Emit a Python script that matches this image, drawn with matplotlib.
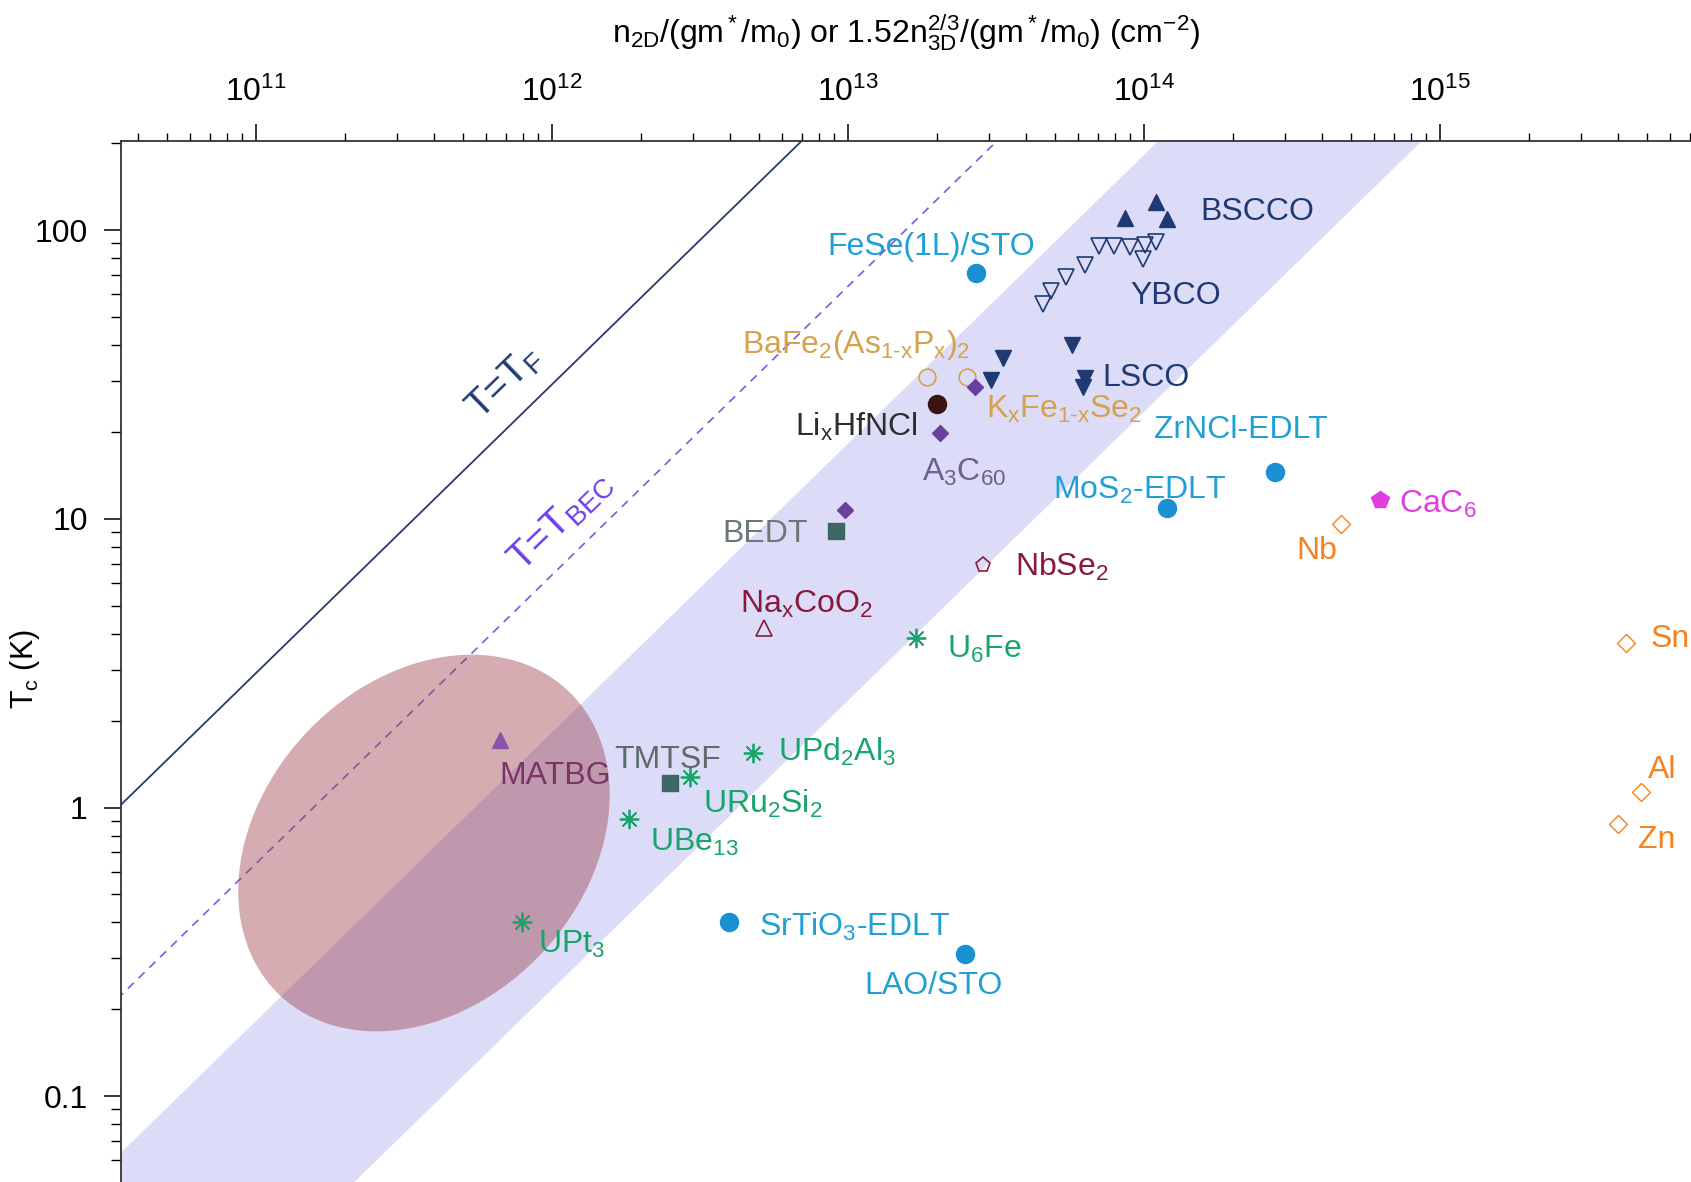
# Tc vs effective 2D carrier density (Uemura-type plot)
import numpy as np
import matplotlib.pyplot as plt

plt.rcParams['font.family'] = ['Liberation Sans', 'DejaVu Sans']
plt.rcParams['mathtext.fontset'] = 'custom'
plt.rcParams['mathtext.rm'] = 'Liberation Sans'
plt.rcParams['mathtext.it'] = 'Liberation Sans'
plt.rcParams['mathtext.default'] = 'regular'

# ---- data: n/(g m*/m0) in cm^-2, Tc in K ----
bscco_n = [8.6e13, 1.10e14, 1.20e14]
bscco_tc = [110, 125, 109]
ybco_n = [4.56e13, 4.84e13, 5.45e13, 6.33e13, 7.06e13, 7.94e13, 9.0e13, 9.95e13, 1.01e14, 1.10e14]
ybco_tc = [55.5, 61.5, 68.9, 75.7, 88.4, 88.4, 87.6, 79.6, 89.1, 90.6]
lsco_n = [3.35e13, 3.05e13, 5.73e13, 6.33e13, 6.22e13]
lsco_tc = [36.1, 30.2, 40.1, 30.7, 28.6]
bafe_n = [1.85e13, 2.52e13]
bafe_tc = [31, 31]
a3c60_n = [2.68e13, 2.04e13, 9.75e12]
a3c60_tc = [28.6, 19.8, 10.7]
lihfncl_n = [2.0e13]
lihfncl_tc = [25.0]
organic_n = [9.1e12, 2.5e12]          # BEDT, TMTSF
organic_tc = [9.1, 1.22]
ufermion_n = [1.70e13, 4.78e12, 2.94e12, 1.82e12, 7.9e11]   # U6Fe, UPd2Al3, URu2Si2, UBe13, UPt3
ufermion_tc = [3.85, 1.55, 1.28, 0.91, 0.40]
edlt_n = [2.7e13, 2.77e14, 1.2e14, 3.97e12, 2.49e13]     # FeSe/STO, ZrNCl, MoS2, SrTiO3, LAO/STO
edlt_tc = [71, 14.5, 10.9, 0.40, 0.31]
nbse2_n, nbse2_tc = [2.85e13], [6.9]
naxcoo2_n, naxcoo2_tc = [5.2e12], [4.2]
matbg_n, matbg_tc = [6.7e11], [1.72]
cac6_n, cac6_tc = [6.25e14], [11.6]
metal_n = [4.62e14, 4.24e15, 4.77e15, 3.99e15]   # Nb, Sn, Al, Zn
metal_tc = [9.6, 3.7, 1.13, 0.88]

# reference lines T = c * n  (log10 c)
tf_coef = -10.535
tbec_coef = -11.195
band_hi = -11.74
band_lo = -12.63
# MATBG ellipse in log10 space: centre, semi-axes (decades), angle
ell_c = (11.568, -0.123)
ell_a, ell_b, ell_ang = 0.718, 0.551, 49.3

labels = ['BSCCO', 'FeSe(1L)/STO', 'YBCO', r'BaFe$_2$(As$_{1\text{-}x}$P$_x$)$_2$', 'LSCO',
          r'K$_x$Fe$_{1\text{-}x}$Se$_2$', 'Li$_x$HfNCl', 'ZrNCl-EDLT', 'A$_3$C$_{60}$', 'BEDT',
          'NbSe$_2$', 'Na$_x$CoO$_2$', 'U$_6$Fe', 'MATBG', 'TMTSF', 'UPd$_2$Al$_3$',
          'URu$_2$Si$_2$', 'UBe$_{13}$', 'UPt$_3$', 'SrTiO$_3$-EDLT', 'LAO/STO',
          'MoS$_2$-EDLT', 'CaC$_6$', 'Nb', 'Sn', 'Al', 'Zn']
label_n = [1.55e14, 8.53e12, 9.0e13, 4.4e12, 7.24e13, 2.92e13, 6.62e12, 1.08e14, 1.78e13, 3.78e12,
           3.67e13, 4.33e12, 2.16e13, 6.65e11, 1.63e12, 5.8e12, 3.25e12, 2.15e12, 9.0e11, 5.02e12,
           1.14e13, 4.92e13, 7.28e14, 3.27e14, 5.13e15, 5.05e15, 4.68e15]
label_t = [108.6, 81.8, 55.5, 37.4, 28.9, 22.3, 19.4, 19.1, 13.55, 8.3,
           6.36, 4.74, 3.31, 1.21, 1.375, 1.45, 0.958, 0.709, 0.313, 0.359,
           0.226, 11.7, 10.5, 7.23, 3.6, 1.27, 0.727]

navy = '#1f3a72'
cyan = '#1a90d2'
tan = '#d4a24a'
purple = '#6b3fa0'
teal = '#3d6664'
maroon = '#8a1a3c'
green = '#17a56b'
orange = '#f5821f'
magenta = '#e03ee0'

label_colors = [navy, '#22a0d4', navy, tan, navy, tan, '#2d2d2d', '#22a0d4', '#6f5f8f', '#6b7878',
                maroon, maroon, green, '#7a3466', '#5d6b6b', green, green, green, green, '#22a0d4',
                '#22a0d4', '#22a0d4', magenta, orange, orange, orange, orange]

fig = plt.figure(figsize=(16.91, 11.82), dpi=100)
ax = fig.add_axes([121 / 1691, -15 / 1182, 1570 / 1691, 1056 / 1182])
ax.set_xscale('log')
ax.set_yscale('log')
ax.set_xlim(10 ** 10.5446, 10 ** 15.848)
ax.set_ylim(10 ** -1.349, 10 ** 2.3086)

n_line = np.logspace(10, 17, 60)
ax.fill_between(n_line, n_line * 10 ** band_lo, n_line * 10 ** band_hi,
                color='#dcdcf8', lw=0, zorder=0)
ax.plot(n_line, n_line * 10 ** tf_coef, color='#2a3a6a', lw=1.3, zorder=2)
ax.plot(n_line, n_line * 10 ** tbec_coef, color='#7a5ae0', lw=1.2, ls=(0, (5, 4)), zorder=2)

t = np.linspace(0, 2 * np.pi, 300)
th = np.radians(ell_ang)
lx = ell_c[0] + ell_a * np.cos(t) * np.cos(th) - ell_b * np.sin(t) * np.sin(th)
ly = ell_c[1] + ell_a * np.cos(t) * np.sin(th) + ell_b * np.sin(t) * np.cos(th)
ax.fill(10 ** lx, 10 ** ly, color='#a04752', alpha=0.45, lw=0, zorder=3)

ax.text(6.93e11, 29.6, 'T=T$_F$', color='#1f3b73', fontsize=28, rotation=44,
        ha='center', va='center', rotation_mode='anchor')
ax.text(1.07e12, 9.77, 'T=T$_{BEC}$', color='#6a3ff0', fontsize=28, rotation=44,
        ha='center', va='center', rotation_mode='anchor')

mk = dict(ls='none', zorder=5)
ax.plot(bscco_n, bscco_tc, marker='^', ms=12, color=navy, **mk)
ax.plot(ybco_n, ybco_tc, marker='v', ms=12, mfc='none', mec=navy, mew=1.2, **mk)
ax.plot(lsco_n, lsco_tc, marker='v', ms=12, color=navy, **mk)
ax.plot(bafe_n, bafe_tc, marker='o', ms=12, mfc='none', mec=tan, mew=1.2, **mk)
ax.plot(a3c60_n, a3c60_tc, marker='D', ms=8.5, color=purple, **mk)
ax.plot(lihfncl_n, lihfncl_tc, marker='o', ms=13, color='#3b1414', **mk)
ax.plot(organic_n, organic_tc, marker='s', ms=11, color=teal, **mk)
ax.plot(ufermion_n, ufermion_tc, marker=(8, 2, 0), ms=14, mec=green, mew=1.3, **mk)
ax.plot(edlt_n, edlt_tc, marker='o', ms=13, color=cyan, **mk)
ax.plot(nbse2_n, nbse2_tc, marker='p', ms=11, mfc='none', mec=maroon, mew=1.2, **mk)
ax.plot(naxcoo2_n, naxcoo2_tc, marker='^', ms=11, mfc='none', mec=maroon, mew=1.2, **mk)
ax.plot(matbg_n, matbg_tc, marker='^', ms=11, color='#8955a8', **mk)
ax.plot(cac6_n, cac6_tc, marker='p', ms=13, color=magenta, **mk)
ax.plot(metal_n, metal_tc, marker='D', ms=9, mfc='none', mec=orange, mew=1.0, **mk)

for s, xn, yt, c in zip(labels, label_n, label_t, label_colors):
    ax.text(xn, yt, s, color=c, fontsize=23, ha='left', va='baseline', zorder=6)

# axes styling
for side in ['bottom', 'right']:
    ax.spines[side].set_visible(False)
for side in ['top', 'left']:
    ax.spines[side].set_linewidth(1.3)
    ax.spines[side].set_color('#333333')

ax.xaxis.tick_top()
ax.xaxis.set_label_position('top')
ax.tick_params(axis='x', which='major', direction='out', length=12, width=1.1,
               labelsize=23, pad=12, top=True, bottom=False)
ax.tick_params(axis='x', which='minor', direction='out', length=6, width=1.0, top=True, bottom=False)
ax.tick_params(axis='y', which='major', direction='out', length=12, width=1.1,
               labelsize=23, pad=12, right=False)
ax.tick_params(axis='y', which='minor', direction='out', length=7, width=1.0, right=False)
ax.set_yticks([0.1, 1, 10, 100], labels=['0.1', '1', '10', '100'])

ax.set_xlabel('n$_{2D}$/(gm$^*$/m$_0$) or 1.52n$_{3D}^{2/3}$/(gm$^*$/m$_0$) (cm$^{-2}$)', fontsize=23)
ax.xaxis.set_label_coords(0.5, 1.093)
ax.set_ylabel('T$_c$ (K)', fontsize=22)
ax.yaxis.set_label_coords(-0.05, 0.5)

fig.savefig('out.png', dpi=100)
